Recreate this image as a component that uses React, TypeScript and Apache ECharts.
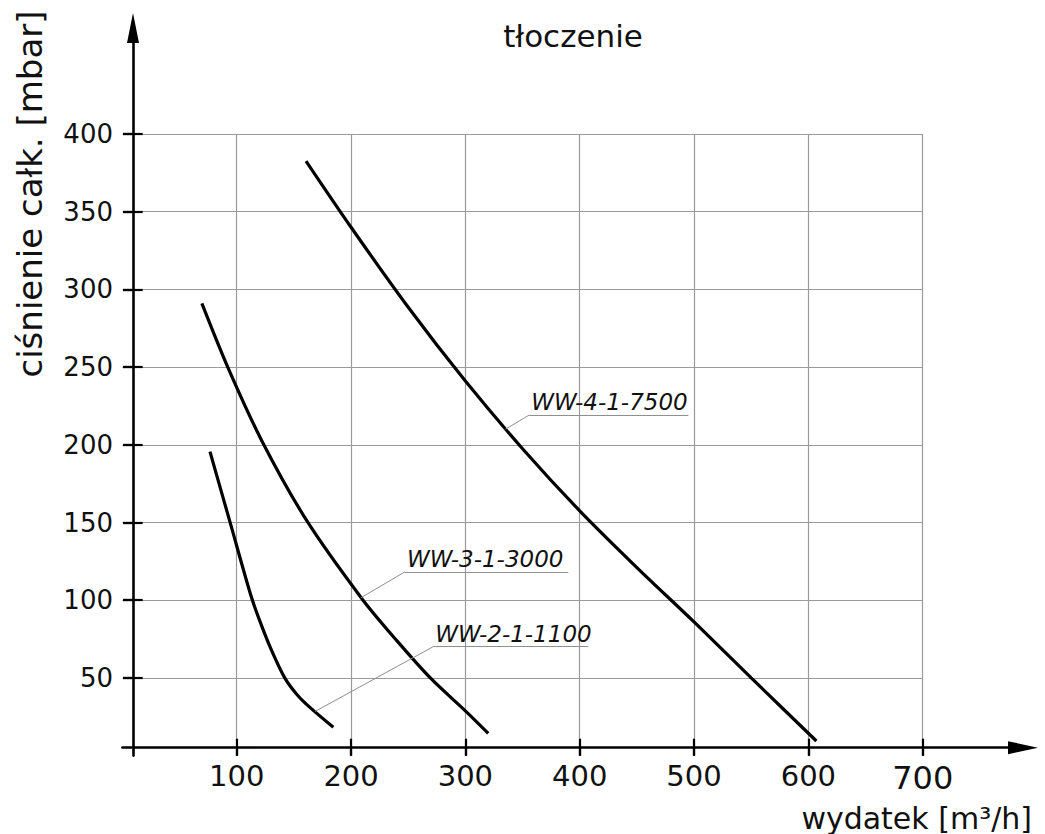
import React, { useEffect, useRef } from "react";
import * as echarts from "echarts";

// ---- data ----
const xTicks = [100, 200, 300, 400, 500, 600, 700];
const yTicks = [50, 100, 150, 200, 250, 300, 350, 400];

const seriesNames = ["WW-2-1-1100", "WW-3-1-3000", "WW-4-1-7500"];

const ww2 = [
  [76.6, 195.6], [95, 148], [112, 104], [120, 87], [130, 68.5], [142, 50], [153, 39], [164, 31], [184.5, 18.2],
];
const ww3 = [
  [69.5, 291], [93, 248.5], [122, 202.5], [161, 151.5], [210, 100.5], [240, 74], [270, 49.5], [300, 28.8], [320, 14.3],
];
const ww4 = [
  [160.6, 382.6], [200, 340], [250, 288.5], [300, 241], [350, 197.5], [400, 157.5], [450, 121], [500, 86], [550, 50], [607, 9.4],
];

// label anchors (data coords): point on curve, underline start, underline end
const ww2Label = [[168.5, 28.4], [271.9, 70.1], [407.5, 70.1]];
const ww3Label = [[208.5, 101.5], [247.2, 118.3], [390, 118.3]];
const ww4Label = [[335, 210], [355.9, 219.2], [495, 219.2]];

const curves = [ww2, ww3, ww4];
const labels = [ww2Label, ww3Label, ww4Label];

// ---- layout ----
const FONT = "DejaVu Sans";
const GRID_LEFT = 122.4;
const GRID_TOP = 134;
const GRID_W = 800.3; // 0..700
const GRID_H = 621.6; // 0..400
const PX_X = GRID_W / 700;
const PX_Y = GRID_H / 400;
const AXIS_TOP = 28;
const AXIS_RIGHT = 1023;
const X1MAX = (AXIS_RIGHT - GRID_LEFT) / PX_X;
const Y1MAX = (GRID_TOP + GRID_H - AXIS_TOP) / PX_Y;
const X_AXIS_OFFSET = -7.9;
const Y_AXIS_OFFSET = -10.6;
const X_TICK_IN = 9;
const X_TICK_OUT = 8;
const Y_TICK_IN = 9.7;
const Y_TICK_OUT = 10;
const GRID_COLOR = "#9a9a9a";
const INK = "#111";
const CLEAR = "rgba(0,0,0,0)";

export default function App() {
  const ref = useRef<HTMLDivElement>(null);

  useEffect(() => {
    if (!ref.current) return;
    const chart = echarts.init(ref.current, undefined, { renderer: "svg" });

    const axisLine = { color: "#000", width: 2.6 };
    const tickLine = { color: "#000", width: 2.2 };

    const series = curves.map((data, i) => ({
      type: "line",
      name: seriesNames[i],
      data,
      xAxisIndex: 0,
      yAxisIndex: 0,
      smooth: 0.3,
      symbol: "none",
      showSymbol: false,
      silent: true,
      lineStyle: { color: "#000", width: 3.2 },
      markLine: {
        silent: true,
        symbol: ["none", "none"],
        animation: false,
        lineStyle: { color: "#8f8f8f", width: 1, type: "solid" },
        label: { show: false },
        emphasis: { disabled: true },
        data: [
          [{ coord: labels[i][0] }, { coord: labels[i][1] }],
          [
            {
              coord: labels[i][1],
              label: {
                show: true,
                position: "insideStartTop",
                formatter: seriesNames[i],
                distance: [2, 1],
                fontFamily: FONT,
                fontStyle: "italic",
                fontSize: 23,
                color: INK,
              },
            },
            { coord: labels[i][2] },
          ],
        ],
      },
    }));

    chart.setOption({
      animation: false,
      backgroundColor: "#fff",
      textStyle: { fontFamily: FONT },
      grid: [
        { left: GRID_LEFT, top: GRID_TOP, width: GRID_W, height: GRID_H },
        {
          left: GRID_LEFT,
          top: AXIS_TOP,
          width: AXIS_RIGHT - GRID_LEFT,
          height: GRID_TOP + GRID_H - AXIS_TOP,
        },
      ],
      xAxis: [
        {
          // grid lines
          gridIndex: 0,
          type: "value",
          min: 0,
          max: 700,
          interval: 100,
          axisLine: { show: false, onZero: false },
          axisTick: { show: false },
          axisLabel: { show: false },
          splitLine: { show: true, showMinLine: false, lineStyle: { color: GRID_COLOR, width: 1.2 } },
        },
        {
          // axis line with arrow, outer ticks and labels
          gridIndex: 1,
          type: "value",
          min: 0,
          max: X1MAX,
          position: "bottom",
          offset: X_AXIS_OFFSET,
          axisLine: {
            show: true,
            onZero: false,
            symbol: ["none", "triangle"],
            symbolSize: [13, 30],
            lineStyle: axisLine,
          },
          axisTick: { show: true, customValues: xTicks, length: X_TICK_OUT, lineStyle: tickLine },
          axisLabel: {
            show: true,
            customValues: xTicks,
            margin: 14,
            fontSize: 29,
            fontFamily: FONT,
            color: INK,
            formatter: (v: number) => (v === 700 ? "{big|700}" : String(v)),
            rich: { big: { fontSize: 32, fontFamily: FONT, color: INK } },
          },
          splitLine: { show: false },
        },
        {
          // crossing ticks: transparent axis shifted inwards, outward ticks run across the axis line
          gridIndex: 1,
          type: "value",
          min: 0,
          max: X1MAX,
          position: "bottom",
          offset: X_AXIS_OFFSET - X_TICK_IN,
          axisLine: { show: true, onZero: false, lineStyle: { color: CLEAR, width: 1 } },
          axisTick: { show: true, customValues: xTicks, length: X_TICK_IN + X_TICK_OUT, lineStyle: tickLine },
          axisLabel: { show: false },
          splitLine: { show: false },
        },
      ],
      yAxis: [
        {
          gridIndex: 0,
          type: "value",
          min: 0,
          max: 400,
          interval: 50,
          axisLine: { show: false, onZero: false },
          axisTick: { show: false },
          axisLabel: { show: false },
          splitLine: { show: true, showMinLine: false, lineStyle: { color: GRID_COLOR, width: 1.2 } },
        },
        {
          gridIndex: 1,
          type: "value",
          min: 0,
          max: Y1MAX,
          position: "left",
          offset: Y_AXIS_OFFSET,
          axisLine: {
            show: true,
            onZero: false,
            symbol: ["none", "triangle"],
            symbolSize: [12, 30],
            lineStyle: axisLine,
          },
          axisTick: { show: true, customValues: yTicks, length: Y_TICK_OUT, lineStyle: tickLine },
          axisLabel: {
            show: true,
            customValues: yTicks,
            margin: 20,
            fontSize: 26,
            fontFamily: FONT,
            color: INK,
          },
          splitLine: { show: false },
        },
        {
          gridIndex: 1,
          type: "value",
          min: 0,
          max: Y1MAX,
          position: "left",
          offset: Y_AXIS_OFFSET - Y_TICK_IN,
          axisLine: { show: true, onZero: false, lineStyle: { color: CLEAR, width: 1 } },
          axisTick: { show: true, customValues: yTicks, length: Y_TICK_IN + Y_TICK_OUT, lineStyle: tickLine },
          axisLabel: { show: false },
          splitLine: { show: false },
        },
      ],
      graphic: [
        {
          type: "text",
          x: 573,
          y: 36,
          silent: true,
          style: {
            text: "tłoczenie",
            fontFamily: FONT,
            fontSize: 31,
            fill: INK,
            align: "center",
            verticalAlign: "middle",
          },
        },
        {
          type: "text",
          x: 30,
          y: 194,
          rotation: Math.PI / 2,
          silent: true,
          style: {
            text: "ciśnienie całk. [mbar]",
            fontFamily: FONT,
            fontSize: 34,
            fill: INK,
            align: "center",
            verticalAlign: "middle",
          },
        },
        {
          type: "text",
          x: 1032,
          y: 818,
          silent: true,
          style: {
            text: "wydatek [m³/h]",
            fontFamily: FONT,
            fontSize: 30,
            fill: INK,
            align: "right",
            verticalAlign: "middle",
          },
        },
      ],
      series,
    });

    return () => chart.dispose();
  }, []);

  return (
    <div
      ref={ref}
      style={{ position: "fixed", left: 0, top: 0, width: 1045, height: 834, background: "#fff" }}
    />
  );
}
